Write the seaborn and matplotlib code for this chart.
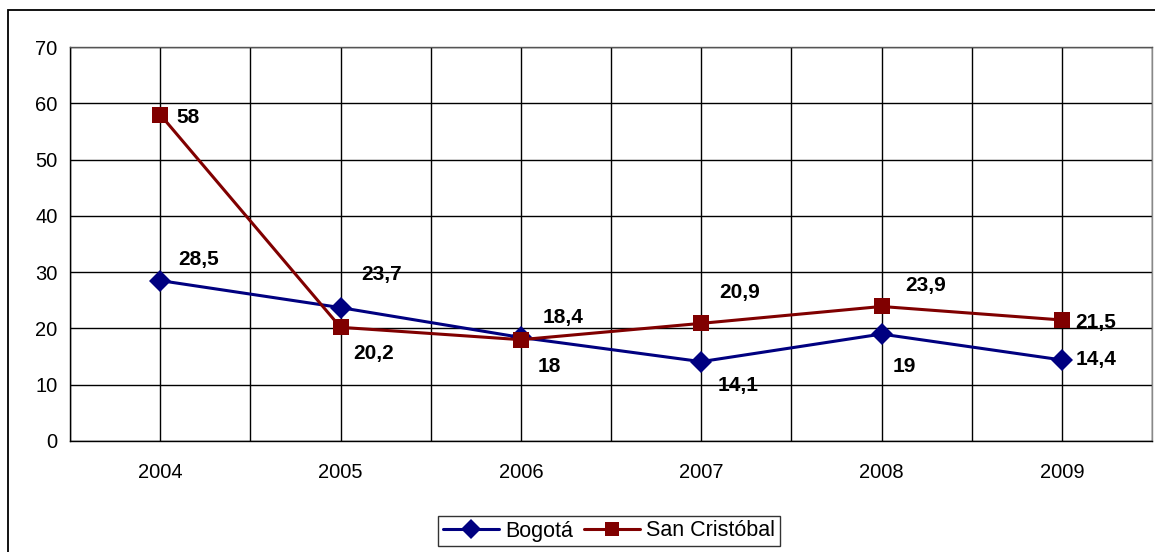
import numpy as np
import pandas as pd
import matplotlib
matplotlib.use('Agg')
import matplotlib.pyplot as plt
import seaborn as sns
from matplotlib.patches import Rectangle
from matplotlib.lines import Line2D

years = ['2004', '2005', '2006', '2007', '2008', '2009']
bogota = [28.5, 23.7, 18.4, 14.1, 19, 14.4]
san_cristobal = [58, 20.2, 18, 20.9, 23.9, 21.5]

# label offsets in points (dx, dy) per point
off_bog = [(13, 15), (15, 24), (16, 14), (12, -17), (8, -23), (10, 0)]
off_sc = [(12, -2), (9, -19), (12, -19), (13, 22), (17, 15), (10, -2)]

sns.set_style('white')
plt.rcParams['font.family'] = ['Liberation Sans', 'DejaVu Sans']
plt.rcParams['text.color'] = 'black'
plt.rcParams['xtick.color'] = 'black'
plt.rcParams['ytick.color'] = 'black'

df = pd.DataFrame({
    'x': list(range(len(years))) * 2,
    'valor': bogota + san_cristobal,
    'serie': ['Bogotá'] * len(years) + ['San Cristóbal'] * len(years),
})

fig = plt.figure(figsize=(11.55, 5.52), dpi=100)
ax = fig.add_axes([70 / 1155, 1 - 441 / 552, (1152 - 70) / 1155, (441 - 47) / 552])

# outer frame of the chart (right and bottom sides fall off the picture)
fig.patches.append(Rectangle((8 / 1155, -0.05), 1.1, 1 - 10 / 552 + 0.05,
                             transform=fig.transFigure, fill=False,
                             edgecolor='black', linewidth=1.3))

sns.lineplot(data=df, x='x', y='valor', hue='serie', style='serie',
             markers={'Bogotá': 'D', 'San Cristóbal': 's'}, dashes=False,
             palette={'Bogotá': '#000080', 'San Cristóbal': '#800000'},
             linewidth=2.2, markersize=11, markeredgewidth=0, ax=ax, legend=False)

for i, v in enumerate(bogota):
    ax.annotate(str(v).replace('.', ','), (i, v), xytext=off_bog[i], textcoords='offset points',
                ha='left', va='center', fontsize=15, fontweight='bold', color='black')
for i, v in enumerate(san_cristobal):
    ax.annotate(str(v).replace('.', ','), (i, v), xytext=off_sc[i], textcoords='offset points',
                ha='left', va='center', fontsize=15, fontweight='bold', color='black')

ax.set_xlim(-0.5, len(years) - 0.5)
ax.set_ylim(0, 70)
ax.set_yticks(range(0, 71, 10))
ax.set_xticks(range(len(years)))
ax.set_xticklabels(years)
ax.set_xticks(np.arange(-0.5, len(years), 1), minor=True)
ax.tick_params(axis='x', which='major', length=0, pad=16, labelsize=14.5)
ax.tick_params(axis='x', which='minor', length=6, width=1, color='black', direction='out')
ax.tick_params(axis='y', length=6, width=1, color='black', pad=3, labelsize=14.5)
ax.grid(True, which='major', color='black', linewidth=1)
ax.grid(True, which='minor', axis='x', color='black', linewidth=1)
ax.set_axisbelow(True)
for s in ax.spines.values():
    s.set_color('black')
    s.set_linewidth(1)
ax.spines['right'].set_color('#888888')
ax.spines['top'].set_color('#555555')
ax.set_xlabel('')
ax.set_ylabel('')

handles = [Line2D([], [], color='#000080', marker='D', lw=2.2, ms=10, mew=0),
           Line2D([], [], color='#800000', marker='s', lw=2.2, ms=10, mew=0)]
leg = fig.legend(handles, ['Bogotá', 'San Cristóbal'], loc='center',
                 bbox_to_anchor=(609 / 1155, 1 - 531 / 552), ncol=2, fontsize=15.5,
                 frameon=True, fancybox=False, handlelength=2.6, columnspacing=0.5,
                 handletextpad=0.3, borderpad=0.2, borderaxespad=0)
leg.get_frame().set_edgecolor('black')
leg.get_frame().set_linewidth(1)

fig.savefig('out.png', dpi=100)
